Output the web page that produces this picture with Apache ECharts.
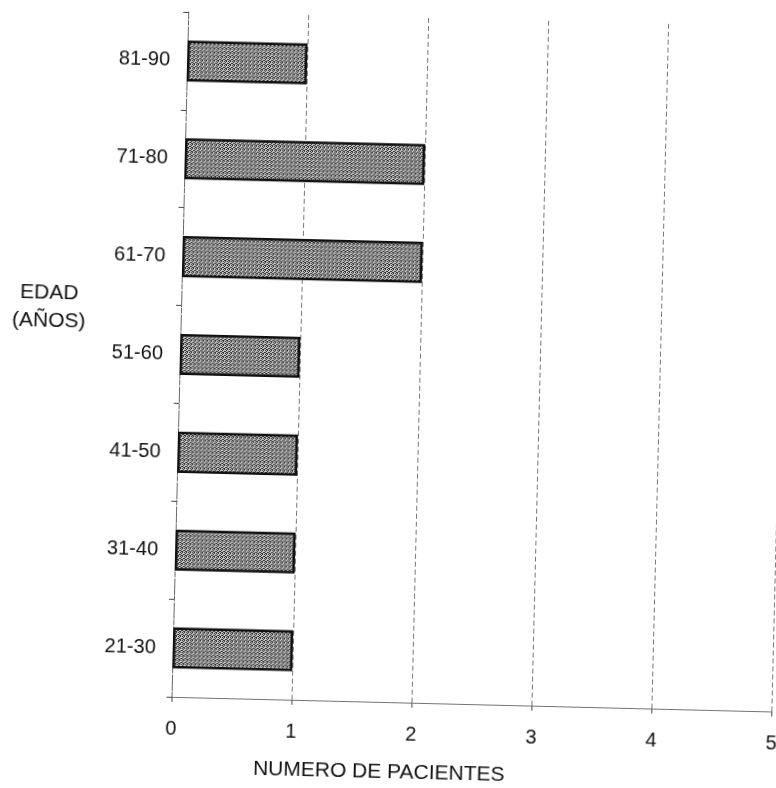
<!DOCTYPE html>
<html>
<head>
<meta charset="utf-8">
<script src="https://cdn.jsdelivr.net/npm/echarts@6/dist/echarts.min.js"></script>
<style>
  html, body { margin: 0; padding: 0; background: #fff; overflow: hidden; width: 776px; height: 788px; position: relative; }
  /* la hoja escaneada esta ligeramente girada */
  #main { position: absolute; left: -12px; top: -11px; width: 800px; height: 810px; transform: rotate(1.4deg); transform-origin: 50% 50%; }
</style>
</head>
<body>
<div id="main"></div>
<script>
// categorias y valores
var edades = ['21-30', '31-40', '41-50', '51-60', '61-70', '71-80', '81-90'];
var pacientes = [1, 1, 1, 1, 2, 2, 1];
var ticksX = [0, 1, 2, 3, 4, 5];

// textura gris punteada (tipo trama de impresion)
function trama() {
  var c = document.createElement('canvas');
  c.width = 4; c.height = 4;
  var ctx = c.getContext('2d');
  ctx.fillStyle = '#c8c8c8';
  ctx.fillRect(0, 0, 4, 4);
  ctx.fillStyle = '#2e2e2e';
  ctx.fillRect(0, 0, 1, 1);
  ctx.fillRect(2, 0, 1, 1);
  ctx.fillRect(1, 1, 1, 1);
  ctx.fillRect(3, 2, 1, 1);
  ctx.fillRect(0, 2, 1, 1);
  ctx.fillRect(2, 3, 1, 1);
  ctx.fillRect(1, 3, 1, 1);
  return c;
}

var chart = echarts.init(document.getElementById('main'));
var fuente = 'Liberation Sans, Arial, sans-serif';

var option = {
  backgroundColor: '#ffffff',
  animation: false,
  grid: { left: 191, right: 8, top: 28, bottom: 97 },
  xAxis: {
    type: 'value',
    min: ticksX[0],
    max: ticksX[ticksX.length - 1],
    interval: 1,
    axisLine: { show: true, lineStyle: { color: '#555', type: 'dotted', width: 1 } },
    axisTick: { show: true, length: 5, lineStyle: { color: '#444' } },
    axisLabel: { color: '#111', fontSize: 20, fontFamily: fuente, margin: 22 },
    splitLine: { show: true, lineStyle: { color: '#777', type: [5, 3], width: 1 } }
  },
  yAxis: {
    type: 'category',
    data: edades,
    axisLine: { show: true, lineStyle: { color: '#666', type: 'dashed', width: 1 } },
    axisTick: { show: true, length: 5, lineStyle: { color: '#444' } },
    axisLabel: { color: '#111', fontSize: 20, fontFamily: fuente, margin: 17 },
    splitLine: { show: false }
  },
  series: [{
    type: 'bar',
    data: pacientes,
    barWidth: '42%',
    itemStyle: {
      color: { image: trama(), repeat: 'repeat' },
      borderColor: '#111',
      borderWidth: 2.5
    }
  }],
  graphic: [
    {
      type: 'text', x: 59, y: 312,
      style: { text: 'EDAD', fill: '#111', font: '21px ' + fuente, align: 'center', verticalAlign: 'middle' }
    },
    {
      type: 'text', x: 59, y: 340,
      style: { text: '(AÑOS)', fill: '#111', font: '21px ' + fuente, align: 'center', verticalAlign: 'middle' }
    },
    {
      type: 'text', x: 400, y: 783,
      style: { text: 'NUMERO DE PACIENTES', fill: '#111', font: '21px ' + fuente, align: 'center', verticalAlign: 'middle' }
    }
  ]
};

chart.setOption(option);
</script>
</body>
</html>
